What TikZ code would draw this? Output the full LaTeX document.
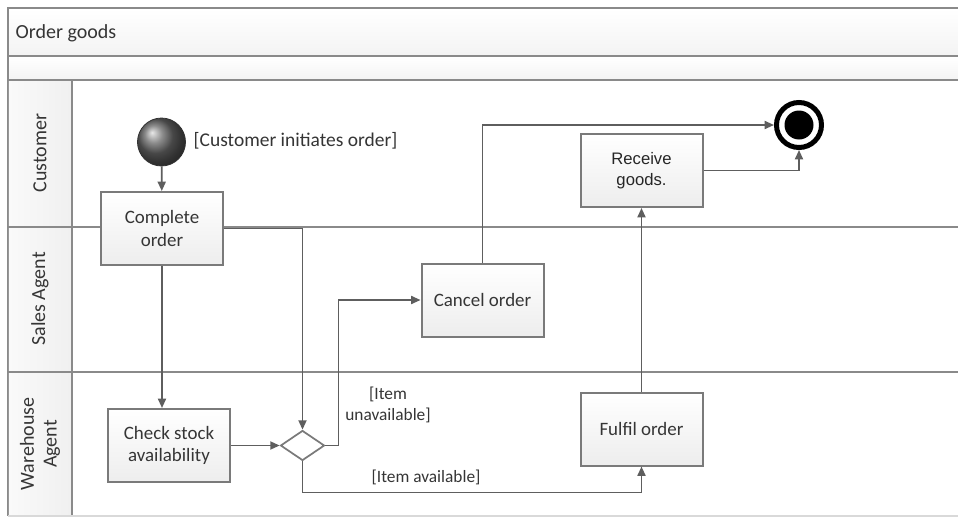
\documentclass[tikz,border=0pt]{standalone}
\usepackage{fontspec}
\setmainfont{Carlito}
\newfontfamily\arialfont{Liberation Sans}
\usetikzlibrary{arrows.meta,shapes.geometric}
\definecolor{linec}{HTML}{5E5E5E}
\definecolor{framec}{HTML}{8A8A8A}
\definecolor{boxc}{HTML}{7A7A7A}
\definecolor{txtc}{HTML}{353535}
\begin{document}
\begin{tikzpicture}[x=0.75pt,y=-0.75pt,
  flow/.style={draw=linec, line width=1.3pt, -{Triangle[length=7pt,width=6pt]}},
  actbox/.style={draw=boxc, line width=1.5pt, top color=white, bottom color=gray!14,
    minimum width=91.5pt, minimum height=54.75pt, align=center,
    font=\fontsize{14.2}{17}\selectfont, text=txtc, inner sep=2pt},
  lanelbl/.style={rotate=90, align=center, font=\fontsize{15}{17}\selectfont, text=txtc},
  guard/.style={align=center, font=\fontsize{13}{16}\selectfont, text=txtc, inner sep=1pt},
  framel/.style={draw=framec, line width=1.5pt}
]
\useasboundingbox (0,0) rectangle (958,518);
\fill[white] (0,0) rectangle (958,518);
% header bands
\shade[top color=white, bottom color=gray!9] (8,8) rectangle (958,56);
\shade[top color=white, bottom color=gray!9] (8,57) rectangle (958,80);
\draw[framel] (960,8) -- (8,8) -- (8,516);
\draw[framel] (8,56) -- (960,56);
\draw[framel] (8,80) -- (960,80);
% lane column
\shade[left color=gray!4, right color=gray!12] (8.8,81) rectangle (72,515);
\draw[framel] (72,80) -- (72,516);
\draw[framel] (8,227) -- (960,227);
\draw[framel] (8,372) -- (960,372);
\draw[draw=gray!30, line width=1pt] (8,516) -- (960,516);
\node[anchor=west, font=\fontsize{15}{17}\selectfont, text=txtc] (title) at (11,33) {Order goods};
\node[lanelbl] (lcust) at (40,153) {Customer};
\node[lanelbl] (lsales) at (40,299) {Sales Agent};
\node[lanelbl] (lware) at (40,444) {Warehouse\\Agent};
% nodes
\node[circle, ball color=black!60, draw=black!80, line width=0.6pt, minimum size=36pt, inner sep=0] (start) at (161.5,142) {};
\node[anchor=west, font=\fontsize{14.6}{17}\selectfont, text=txtc] (lbl0) at (189,141) {[Customer initiates order]};
\node[actbox] (complete) at (162,228.5) {Complete\\order};
\node[actbox] (check) at (169,445.5) {Check stock\\availability};
\node[diamond, draw=boxc, line width=1.3pt, fill=white, minimum width=33pt, minimum height=22.5pt, inner sep=0] (dec) at (302.5,445.5) {};
\node[actbox] (cancel) at (482.5,300) {Cancel order};
\node[actbox] (fulfil) at (641.5,429) {Fulfil order};
\node[actbox, font=\arialfont\fontsize{12.5}{16}\selectfont, text=black!85] (receive) at (641.5,170.5) {Receive\\goods.};
\node[circle, draw=black, line width=3.75pt, fill=white, minimum size=33.75pt, inner sep=0] (endo) at (799,125) {};
\node[circle, fill=black, minimum size=21.75pt, inner sep=0] (endi) at (endo) {};
\node[guard] (lbl1) at (388,405) {[Item\\unavailable]};
\node[guard] (lbl2) at (426,477) {[Item available]};
% connectors
\draw[flow] (start) -- (complete);
\draw[flow] (complete.south) -- (complete.south |- check.north);
\draw[flow] (check) -- (dec);
\draw[flow] (complete.east) -| (dec.north);
\draw[flow] (dec.east) -- ++(13,0) |- (cancel.west);
\draw[flow] (dec.south) -- ++(0,31) -| (fulfil.south);
\draw[flow] (cancel.north) |- (endo.west);
\draw[flow] (fulfil) -- (receive);
\draw[flow] (receive.east) -| (endo.south);
\end{tikzpicture}
\end{document}
